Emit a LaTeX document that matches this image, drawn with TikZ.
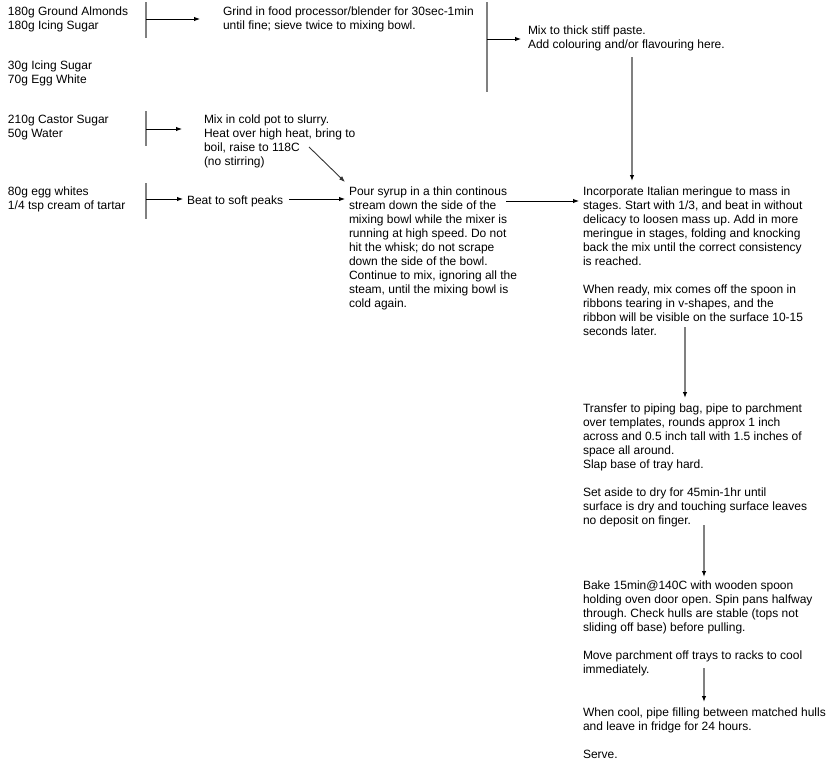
\documentclass[tikz,border=0pt]{standalone}
\usepackage{fontspec}
\setmainfont{Liberation Sans}
\usetikzlibrary{arrows.meta}
\frenchspacing
\newcommand{\fstrut}{\rule{0pt}{10pt}}
\tikzset{
  txt/.style={anchor=north west, inner sep=0pt, outer sep=0pt, align=left, font=\fontsize{12}{14}\selectfont\frenchspacing},
  bar/.style={draw=black!50, line width=1.4pt},
  harrow/.style={draw=black, line width=0.9pt, -{Latex[length=6pt,width=4.5pt]}},
  varrow/.style={draw=black!50, line width=1.4pt, -{Latex[length=6pt,width=4.5pt,color=black]}},
  darrow/.style={draw=black!80, line width=0.9pt, -{Latex[length=6pt,width=4.5pt]}}
}
\begin{document}
\begin{tikzpicture}[x=1pt,y=-1pt]
\useasboundingbox (0,0) rectangle (839,763);
% text blocks (position = first baseline - 10)
\node[txt] (a1) at (8,5) {\fstrut 180g Ground Almonds\\180g Icing Sugar};
\node[txt] (a2) at (223,5) {\fstrut Grind in food processor/blender for 30sec-1min\\until fine; sieve twice to mixing bowl.};
\node[txt] (a3) at (528,24) {\fstrut Mix to thick stiff paste.\\Add colouring and/or flavouring here.};
\node[txt] (b1) at (8,59) {\fstrut 30g Icing Sugar\\70g Egg White};
\node[txt] (c1) at (8,113) {\fstrut 210g Castor Sugar\\50g Water};
\node[txt] (c2) at (204,113) {\fstrut Mix in cold pot to slurry.\\Heat over high heat, bring to\\boil, raise to 118C\\(no stirring)};
\node[txt] (d1) at (8,185) {\fstrut 80g egg whites\\1/4 tsp cream of tartar};
\node[txt] (d2) at (187,194) {\fstrut Beat to soft peaks};
\node[txt] (d3) at (349,185) {\fstrut Pour syrup in a thin continous\\stream down the side of the\\mixing bowl while the mixer is\\running at high speed. Do not\\hit the whisk; do not scrape\\down the side of the bowl.\\Continue to mix, ignoring all the\\steam, until the mixing bowl is\\cold again.};
\node[txt] (e) at (583,185) {\fstrut Incorporate Italian meringue to mass in\\stages. Start with 1/3, and beat in without\\delicacy to loosen mass up. Add in more\\meringue in stages, folding and knocking\\back the mix until the correct consistency\\is reached.\\[14pt]When ready, mix comes off the spoon in\\ribbons tearing in v-shapes, and the\\ribbon will be visible on the surface 10-15\\seconds later.};
\node[txt] (f) at (583,402) {\fstrut Transfer to piping bag, pipe to parchment\\over templates, rounds approx 1 inch\\across and 0.5 inch tall with 1.5 inches of\\space all around.\\Slap base of tray hard.\\[14pt]Set aside to dry for 45min-1hr until\\surface is dry and touching surface leaves\\no deposit on finger.};
\node[txt] (g) at (583,579) {\fstrut Bake 15min@140C with wooden spoon\\holding oven door open. Spin pans halfway\\through. Check hulls are stable (tops not\\sliding off base) before pulling.\\[14pt]Move parchment off trays to racks to cool\\immediately.};
\node[txt] (h) at (583,706) {\fstrut When cool, pipe filling between matched hulls\\and leave in fridge for 24 hours.\\[14pt]Serve.};
% bar coordinates
\coordinate (bar1t) at (146,2);  \coordinate (bar1b) at (146,38);
\coordinate (bar2t) at (487,2);  \coordinate (bar2b) at (487,92);
\coordinate (bar3t) at (146,111); \coordinate (bar3b) at (146,146);
\coordinate (bar4t) at (146,183); \coordinate (bar4b) at (146,219);
\draw[bar] (bar1t) -- (bar1b);
\draw[bar] (bar2t) -- (bar2b);
\draw[bar] (bar3t) -- (bar3b);
\draw[bar] (bar4t) -- (bar4b);
% arrow end points
\coordinate (r1s) at (146,19);  \coordinate (r1e) at (200,19);
\coordinate (r2s) at (487,39);  \coordinate (r2e) at (521,39);
\coordinate (r3s) at (146,129); \coordinate (r3e) at (182,129);
\coordinate (r4s) at (146,199); \coordinate (r4e) at (183,199);
\coordinate (r5s) at (289,199); \coordinate (r5e) at (345,199);
\coordinate (r6s) at (506,201); \coordinate (r6e) at (579,201);
\coordinate (dgs) at (309,147); \coordinate (dge) at (345,182);
\coordinate (v1s) at (632,57);  \coordinate (v1e) at (632,181);
\coordinate (v2s) at (685,327); \coordinate (v2e) at (685,398);
\coordinate (v3s) at (704,525); \coordinate (v3e) at (704,577);
\coordinate (v4s) at (704,668); \coordinate (v4e) at (704,702);
\draw[harrow] (r1s) -- (r1e);
\draw[harrow] (r2s) -- (r2e);
\draw[harrow] (r3s) -- (r3e);
\draw[harrow] (r4s) -- (r4e);
\draw[harrow] (r5s) -- (r5e);
\draw[harrow] (r6s) -- (r6e);
\draw[darrow] (dgs) -- (dge);
\draw[varrow] (v1s) -- (v1e);
\draw[varrow] (v2s) -- (v2e);
\draw[varrow] (v3s) -- (v3e);
\draw[varrow] (v4s) -- (v4e);
\end{tikzpicture}
\end{document}
